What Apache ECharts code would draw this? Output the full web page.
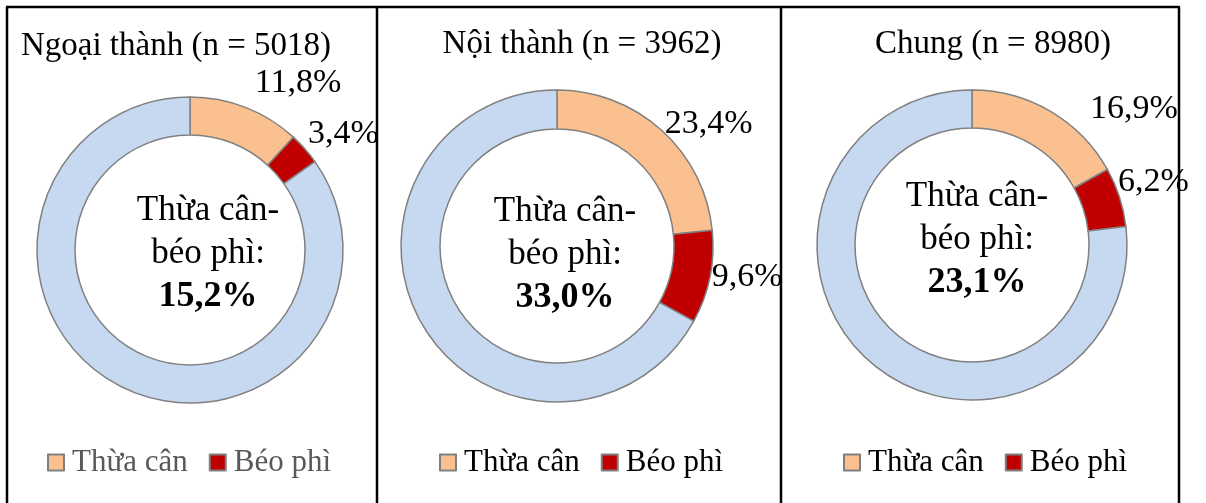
<!DOCTYPE html>
<html>
<head>
<meta charset="utf-8">
<script src="https://cdn.jsdelivr.net/npm/echarts@6/dist/echarts.min.js"></script>
<style>
html,body{margin:0;padding:0;background:#fff;}
#chart{width:1206px;height:503px;}
</style>
</head>
<body>
<div id="chart"></div>
<script>
// ---- Data ----
const categories = ['Thừa cân', 'Béo phì'];
const groups = ['Ngoại thành', 'Nội thành', 'Chung'];
const sampleSizes = [5018, 3962, 8980];
const thuaCan = [11.8, 23.4, 16.9];
const beoPhi = [3.4, 9.6, 6.2];
const centerCaption = ['Thừa cân-', 'béo phì:'];

// ---- Layout / style (not data) ----
const FONT = "'Liberation Serif', 'Times New Roman', serif";
const colors = { thuaCan: '#FAC090', beoPhi: '#C00000', rest: '#C6D9F1', edge: '#808080' };
const panels = [
  { cx: 190, cy: 250, R: 153, r: 115, titleX: 176, titleY: 46, textX: 208, textY: 254, legendLeft: 47, legendColor: '#595959',
    lines: [[26, 0], [23, -14]] },
  { cx: 557, cy: 246, R: 156, r: 117, titleX: 582, titleY: 44, textX: 565, textY: 255, legendLeft: 439, legendColor: '#000000',
    lines: [[9, -3], [0, 2]] },
  { cx: 972, cy: 245, R: 155, r: 117, titleX: 993, titleY: 44, textX: 977, textY: 240, legendLeft: 843, legendColor: '#000000',
    lines: [[3, 38], [50, -49]] }
];
const borderX = [7, 377, 781, 1179];
const borderTop = 7;

function fmt(v) { return v.toFixed(1).replace('.', ',') + '%'; }

const series = [];
const legends = [];
const graphics = [];

groups.forEach(function (g, i) {
  const p = panels[i];
  const rest = +(100 - thuaCan[i] - beoPhi[i]).toFixed(1);
  series.push({
    type: 'pie',
    name: g,
    center: [p.cx, p.cy],
    radius: [p.r, p.R],
    startAngle: 90,
    clockwise: true,
    avoidLabelOverlap: false,
    silent: true,
    animation: false,
    itemStyle: { borderColor: colors.edge, borderWidth: 1.5 },
    label: {
      show: true,
      position: 'outside',
      distanceToLabelLine: 0,
      fontFamily: FONT,
      fontSize: 34,
      color: '#000',
      formatter: function (prm) { return fmt(prm.value); }
    },
    labelLine: { show: false },
    data: [
      { name: categories[0], value: thuaCan[i], itemStyle: { color: colors.thuaCan },
        labelLine: { show: false, length: p.lines[0][0], length2: p.lines[0][1] } },
      { name: categories[1], value: beoPhi[i], itemStyle: { color: colors.beoPhi },
        labelLine: { show: false, length: p.lines[1][0], length2: p.lines[1][1] } },
      { name: 'Khác', value: rest, itemStyle: { color: colors.rest }, label: { show: false } }
    ]
  });
  legends.push({
    data: categories,
    left: p.legendLeft,
    top: 447,
    orient: 'horizontal',
    padding: 0,
    itemGap: 21,
    itemWidth: 16,
    itemHeight: 16,
    icon: 'rect',
    selectedMode: false,
    itemStyle: { borderColor: '#7f7f7f', borderWidth: 2 },
    textStyle: { fontFamily: FONT, fontSize: 31, color: p.legendColor, lineHeight: 30, padding: [0, 0, 0, 3] }
  });
  // title
  graphics.push({
    type: 'text',
    style: {
      text: g + ' (n = ' + sampleSizes[i] + ')',
      x: p.titleX, y: p.titleY,
      font: '33px ' + FONT,
      fill: '#000',
      textAlign: 'center', align: 'center',
      textVerticalAlign: 'middle', verticalAlign: 'middle'
    }
  });
  // center text
  const total = fmt(thuaCan[i] + beoPhi[i]);
  graphics.push({
    type: 'text',
    style: {
      text: '{a|' + centerCaption[0] + '}\n{a|' + centerCaption[1] + '}\n{b|' + total + '}',
      x: p.textX, y: p.textY,
      textAlign: 'center', align: 'center',
      textVerticalAlign: 'middle', verticalAlign: 'middle',
      rich: {
        a: { fontFamily: FONT, fontSize: 35, lineHeight: 43, fill: '#000', color: '#000', align: 'center' },
        b: { fontFamily: FONT, fontSize: 36, fontWeight: 'bold', lineHeight: 43, fill: '#000', color: '#000', align: 'center' }
      }
    }
  });
});

// borders
graphics.push({ type: 'line', shape: { x1: 6, y1: borderTop, x2: 1180, y2: borderTop }, style: { stroke: '#000', lineWidth: 2.5 } });
borderX.forEach(function (x) {
  graphics.push({ type: 'line', shape: { x1: x, y1: borderTop, x2: x, y2: 503 }, style: { stroke: '#000', lineWidth: 2.5 } });
});

const chart = echarts.init(document.getElementById('chart'), null, { renderer: 'canvas' });
chart.setOption({
  backgroundColor: '#ffffff',
  animation: false,
  legend: legends,
  series: series,
  graphic: { elements: graphics }
});
</script>
</body>
</html>
